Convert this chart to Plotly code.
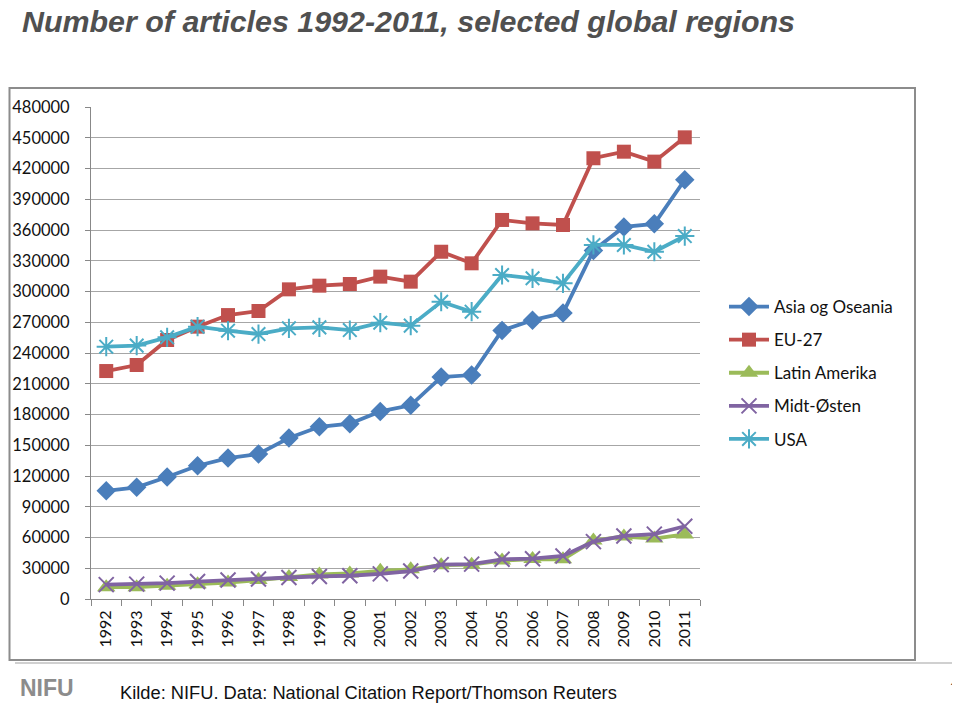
import plotly.graph_objects as go

years = [str(y) for y in range(1992, 2012)]
asia = [105500, 109000, 119000, 130000, 137500, 141500, 157000, 168000, 171000, 183000,
        189000, 216500, 218500, 262000, 272000, 279000, 340000, 363000, 366000, 409000]
eu27 = [222400, 228300, 252700, 265700, 277000, 281000, 302100, 305700, 307300, 314500,
        309600, 338800, 327500, 369800, 366500, 364900, 430000, 436400, 426700, 450400]
latin = [11500, 11500, 13000, 14500, 16000, 18500, 21500, 24000, 25000, 27500,
         29000, 33000, 33500, 37500, 39000, 38700, 57000, 61000, 59000, 63000]
midt = [14000, 14500, 15500, 17000, 18500, 19500, 21000, 22000, 22700, 24500,
        27300, 33500, 34000, 38700, 39300, 42000, 56000, 61500, 63300, 71000]
usa = [246200, 247200, 255300, 265700, 261800, 258500, 264100, 265000, 262400, 269600,
       266700, 290000, 280300, 316100, 312900, 308000, 345400, 345400, 338800, 354100]
names = ["Asia og Oseania", "EU-27", "Latin Amerika", "Midt-Østen", "USA"]
yticks = list(range(0, 480001, 30000))

W, H = 960, 703
OFF = 8  # page body margin
def px(x): return (x - OFF) / W
def py(y): return 1 - (y - OFF) / H

series = [
    (names[0], asia, "#4A7EBB", "diamond", 15, None),
    (names[1], eu27, "#C0504D", "square", 14, None),
    (names[2], latin, "#9BBB59", "triangle-up", 16, None),
    (names[3], midt, "#8064A2", "x-thin-open", 15, 2),
    (names[4], usa, "#4BACC6", "asterisk-open", 16, 2),
]

fig = go.Figure()
for i, (n, vals, c, sym, sz, lw) in enumerate(series):
    marker = dict(symbol=sym, size=sz, color=c)
    if lw:
        marker["line"] = dict(color=c, width=lw)
    fig.add_trace(go.Scatter(x=years, y=vals, name=n, mode="lines+markers",
                             line=dict(color=c, width=3.8), marker=marker,
                             legendgroup=n))

fig.update_layout(
    width=W, height=H, margin=dict(l=0, r=0, t=0, b=0, autoexpand=False),
    plot_bgcolor="white", paper_bgcolor="white",
    font=dict(family="Lato, Open Sans, sans-serif", color="#222"),
    showlegend=True,
    legend=dict(x=px(724), y=py(289), xanchor="left", yanchor="top",
                font=dict(size=17, family="Lato, sans-serif", color="#111"),
                tracegroupgap=8, itemwidth=40, bgcolor="rgba(0,0,0,0)"),
    xaxis=dict(domain=[px(91), px(700)], type="category", range=[-0.5, 19.5],
               tickson="boundaries",
               ticks="outside", ticklen=6, tickcolor="#888", showline=True,
               linecolor="#888", linewidth=1, showgrid=False, tickangle=-90,
               ticklabelstandoff=4,
               tickfont=dict(size=16, family="Lato, sans-serif", color="#111")),
    yaxis=dict(domain=[py(599), py(107)], range=[0, 480000], tickvals=yticks,
               ticktext=[str(v) for v in yticks], ticks="outside", ticklen=5,
               tickcolor="#888", showline=True, linecolor="#888", linewidth=1,
               gridcolor="#A6A6A6", gridwidth=1, zeroline=False,
               ticklabelstandoff=12,
               tickfont=dict(size=16.5, family="Lato, sans-serif", color="#111")),
    shapes=[
        dict(type="rect", xref="paper", yref="paper", x0=px(9.5), x1=px(915),
             y0=py(660), y1=py(88), line=dict(color="#8C8C8C", width=2), layer="below"),
        dict(type="line", xref="paper", yref="paper", x0=px(15), x1=px(960),
             y0=py(663), y1=py(663), line=dict(color="#D0D0D0", width=2)),
    ],
    annotations=[
        dict(text="<b><i>Number of articles 1992-2011, selected global regions</i></b>",
             xref="paper", yref="paper", x=px(21), y=py(21), xanchor="left", yanchor="middle",
             borderpad=0,
             showarrow=False, font=dict(size=30.4, family="Liberation Sans Narrow, Liberation Sans, Arial", color="#505050")),
        dict(text="<b>NIFU</b>", xref="paper", yref="paper", x=px(18), y=py(688),
             xanchor="left", yanchor="middle", showarrow=False,
             font=dict(size=23, family="Liberation Sans Narrow, Liberation Sans", color="#8C8C8C")),
        dict(text="Kilde: NIFU. Data: National Citation Report/Thomson Reuters",
             xref="paper", yref="paper", x=px(118), y=py(692), xanchor="left", yanchor="middle",
             showarrow=False, font=dict(size=18.3, family="Liberation Sans Narrow, Liberation Sans", color="#111")),
        dict(text="<i>4</i>", xref="paper", yref="paper", x=px(954), y=py(683),
             xanchor="center", yanchor="middle", showarrow=False,
             font=dict(size=11, family="Liberation Sans", color="#444")),
    ],
)

fig.write_html("out.html")
